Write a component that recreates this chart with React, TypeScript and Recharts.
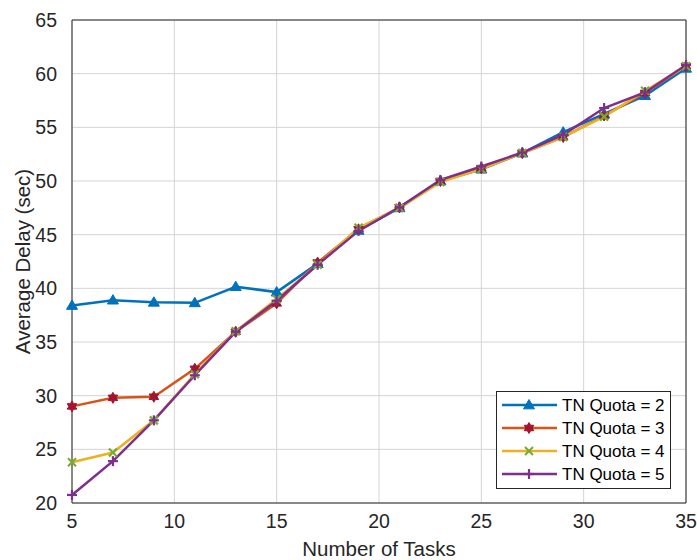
import { LineChart, Line, XAxis, YAxis, CartesianGrid, ReferenceLine } from 'recharts';

const tasks = [5, 7, 9, 11, 13, 15, 17, 19, 21, 23, 25, 27, 29, 31, 33, 35];
const quota2 = [38.4, 38.9, 38.7, 38.65, 40.15, 39.65, 42.3, 45.4, 47.5, 50.0, 51.1, 52.6, 54.55, 56.25, 57.95, 60.5];
const quota3 = [29.0, 29.8, 29.9, 32.5, 35.95, 38.6, 42.4, 45.5, 47.55, 50.0, 51.2, 52.6, 54.1, 56.1, 58.2, 60.7];
const quota4 = [23.8, 24.7, 27.7, 32.0, 36.0, 39.0, 42.2, 45.65, 47.5, 49.9, 51.1, 52.6, 54.1, 56.0, 58.4, 60.7];
const quota5 = [20.75, 23.9, 27.7, 31.9, 35.95, 38.85, 42.2, 45.35, 47.55, 50.1, 51.35, 52.65, 54.3, 56.8, 58.25, 60.8];
const xTicks = [5, 10, 15, 20, 25, 30, 35];
const yTicks = [20, 25, 30, 35, 40, 45, 50, 55, 60, 65];

const data = tasks.map((t, i) => ({ t, q2: quota2[i], q3: quota3[i], q4: quota4[i], q5: quota5[i] }));

const FONT = '"Liberation Sans", Arial, Helvetica, sans-serif';
const AXIS = '#262626';

type Shape = 'triangle' | 'hexagram' | 'x' | 'plus';

const marker = (shape: Shape, color: string, cx: number, cy: number, key?: string | number) => {
  if (shape === 'triangle') {
    const r = 5.5;
    return (
      <polygon key={key} points={`${cx},${cy - r} ${cx - r},${cy + r * 0.7} ${cx + r},${cy + r * 0.7}`} fill={color} stroke={color} strokeWidth={1} />
    );
  }
  if (shape === 'hexagram') {
    const pts: string[] = [];
    for (let k = 0; k < 12; k++) {
      const a = (Math.PI / 6) * k - Math.PI / 2;
      const r = k % 2 === 0 ? 5.5 : 3.2;
      pts.push(`${cx + r * Math.cos(a)},${cy + r * Math.sin(a)}`);
    }
    return <polygon key={key} points={pts.join(' ')} fill={color} stroke={color} strokeWidth={1} />;
  }
  if (shape === 'x') {
    const r = 4;
    return (
      <g key={key} stroke={color} strokeWidth={2.2}>
        <line x1={cx - r} y1={cy - r} x2={cx + r} y2={cy + r} />
        <line x1={cx - r} y1={cy + r} x2={cx + r} y2={cy - r} />
      </g>
    );
  }
  const r = 5;
  return (
    <g key={key} stroke={color} strokeWidth={2.2}>
      <line x1={cx - r} y1={cy} x2={cx + r} y2={cy} />
      <line x1={cx} y1={cy - r} x2={cx} y2={cy + r} />
    </g>
  );
};

const series = [
  { key: 'q2', name: 'TN Quota = 2', color: '#0072BD', markColor: '#0072BD', shape: 'triangle' as Shape },
  { key: 'q3', name: 'TN Quota = 3', color: '#D95319', markColor: '#A2142F', shape: 'hexagram' as Shape },
  { key: 'q4', name: 'TN Quota = 4', color: '#EDB120', markColor: '#77AC30', shape: 'x' as Shape },
  { key: 'q5', name: 'TN Quota = 5', color: '#7E2F8E', markColor: '#7E2F8E', shape: 'plus' as Shape },
];

const LegendBox = () => (
  <svg width={175} height={98} style={{ position: 'absolute', left: 496, top: 391, display: 'block' }}>
    <rect x={0.5} y={0.5} width={174} height={97} fill="#fff" stroke={AXIS} strokeWidth={1} />
    {series.map((s, i) => {
      const y = 14 + i * 23;
      return (
        <g key={s.key}>
          <line x1={6} y1={y} x2={61} y2={y} stroke={s.color} strokeWidth={2.5} />
          {marker(s.shape, s.markColor, 33, y)}
          <text x={66} y={y + 6} fontSize={17} fontFamily={FONT} fill="#000">{s.name}</text>
        </g>
      );
    })}
  </svg>
);

export default function App() {
  return (
    <div style={{ position: 'absolute', left: 0, top: 0, width: 697, height: 560, background: '#fff' }}>
      <LineChart width={697} height={560} data={data} margin={{ top: 20, right: 11, left: 0, bottom: 0 }}>
        <CartesianGrid stroke="#d4d4d4" strokeWidth={1} />
        <XAxis
          dataKey="t"
          type="number"
          domain={[5, 35]}
          ticks={xTicks}
          height={57}
          stroke={AXIS}
          tickLine={false}
          tick={{ fill: AXIS, fontSize: 19.5, fontFamily: FONT }}
          tickMargin={5}
          label={{ value: 'Number of Tasks', position: 'insideBottom', offset: 4, fill: AXIS, fontSize: 20.5, fontFamily: FONT }}
        />
        <YAxis
          type="number"
          domain={[20, 65]}
          ticks={yTicks}
          width={72}
          stroke={AXIS}
          tickLine={false}
          tick={{ fill: AXIS, fontSize: 19.5, fontFamily: FONT }}
          tickMargin={9}
          label={{ value: 'Average Delay (sec)', angle: -90, position: 'insideLeft', offset: 23, fill: AXIS, fontSize: 20.5, fontFamily: FONT, style: { textAnchor: 'middle' } }}
        />
        <ReferenceLine y={65} stroke={AXIS} strokeWidth={1} />
        <ReferenceLine x={35} stroke={AXIS} strokeWidth={1} />
        {series.map((s) => (
          <Line
            key={s.key}
            dataKey={s.key}
            name={s.name}
            stroke={s.color}
            strokeWidth={2.5}
            isAnimationActive={false}
            dot={(p: any) => marker(s.shape, s.markColor, p.cx, p.cy, p.index)}
            activeDot={false}
          />
        ))}
      </LineChart>
      <LegendBox />
    </div>
  );
}
